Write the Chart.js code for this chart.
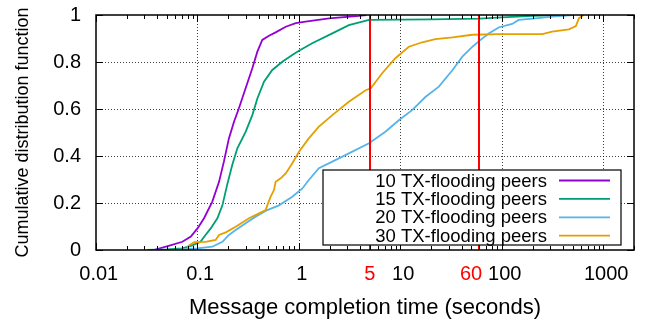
<!DOCTYPE html>
<html>
<head>
<meta charset="utf-8">
<script src="https://cdn.jsdelivr.net/npm/chart.js@4/dist/chart.umd.min.js"></script>
<style>
  html, body { margin: 0; padding: 0; background: #fff; }
</style>
</head>
<body>
<canvas id="graph" width="645" height="324"></canvas>
<script>
// CDF curves: completion time (s) -> cumulative fraction
const t10 = [0.037, 0.054, 0.071, 0.086, 0.1, 0.116, 0.14, 0.163, 0.182, 0.204, 0.229, 0.256, 0.298, 0.347, 0.389, 0.435, 0.506, 0.589, 0.74, 0.93, 1.16, 1.98, 3.9, 4.6];
const c10 = [0, 0.02, 0.035, 0.057, 0.092, 0.135, 0.206, 0.29, 0.376, 0.475, 0.546, 0.603, 0.688, 0.773, 0.844, 0.894, 0.912, 0.926, 0.95, 0.965, 0.972, 0.986, 0.996, 1];

const t15 = [0.032, 0.05, 0.071, 0.089, 0.107, 0.12, 0.135, 0.157, 0.176, 0.196, 0.22, 0.247, 0.298, 0.347, 0.389, 0.452, 0.546, 0.685, 0.859, 1.0, 1.35, 2.13, 3.1, 4.9, 20, 60, 100, 200, 400];
const c15 = [0, 0.003, 0.007, 0.02, 0.035, 0.064, 0.092, 0.135, 0.19, 0.277, 0.362, 0.433, 0.503, 0.574, 0.645, 0.716, 0.766, 0.801, 0.83, 0.848, 0.88, 0.922, 0.957, 0.979, 0.981, 0.985, 0.99, 0.996, 1];

const t20 = [0.06, 0.1, 0.14, 0.176, 0.204, 0.238, 0.298, 0.374, 0.487, 0.635, 0.859, 1.08, 1.25, 1.57, 2.13, 3.1, 4.9, 7.1, 9.7, 13.1, 17.7, 23.9, 32.6, 40.7, 51.2, 61.5, 74.7, 93.7, 126, 146, 214, 312, 425, 500];
const c20 = [0, 0.007, 0.014, 0.035, 0.064, 0.085, 0.114, 0.142, 0.17, 0.19, 0.227, 0.262, 0.298, 0.348, 0.376, 0.411, 0.454, 0.503, 0.553, 0.596, 0.652, 0.695, 0.766, 0.823, 0.865, 0.894, 0.922, 0.948, 0.962, 0.979, 0.986, 0.993, 0.997, 1];

const t30 = [0.08, 0.08, 0.083, 0.093, 0.12, 0.151, 0.163, 0.19, 0.238, 0.322, 0.404, 0.47, 0.487, 0.526, 0.567, 0.589, 0.66, 0.74, 0.86, 1.0, 1.25, 1.57, 2.13, 3.1, 4.54, 5.1, 6.6, 8.9, 12.1, 16.4, 22, 32.6, 51, 93.5, 250, 312, 457, 535, 573, 620, 640];
const c30 = [0, 0.012, 0.02, 0.033, 0.035, 0.043, 0.064, 0.075, 0.099, 0.135, 0.156, 0.17, 0.19, 0.227, 0.255, 0.29, 0.305, 0.326, 0.369, 0.418, 0.475, 0.525, 0.574, 0.631, 0.68, 0.688, 0.752, 0.816, 0.865, 0.884, 0.897, 0.905, 0.916, 0.919, 0.919, 0.929, 0.939, 0.953, 0.986, 0.997, 1];

const seriesNames = ['10 TX-flooding peers', '15 TX-flooding peers', '20 TX-flooding peers', '30 TX-flooding peers'];
const seriesColors = ['#9400d3', '#009e73', '#56b4e9', '#e69f00'];
const xTickValues = [0.01, 0.1, 1, 5, 10, 60, 100, 1000];
const xGridValues = [0.1, 1, 10, 100, 1000];
const markerTimes = [5, 60];
const yTickValues = [0, 0.2, 0.4, 0.6, 0.8, 1];

const FONT = "'Liberation Sans', Arial, Helvetica, sans-serif";
const RED = '#ff0000';

const toPoints = (xs, ys) => xs.map((x, i) => ({x: x, y: ys[i]}));
const allT = [t10, t15, t20, t30];
const allC = [c10, c15, c20, c30];

const datasets = seriesNames.map((name, i) => ({
    label: name,
    data: toPoints(allT[i], allC[i]),
    borderColor: seriesColors[i],
    backgroundColor: seriesColors[i],
    borderWidth: 1.8,
    pointRadius: 0,
    showLine: true,
    tension: 0,
    order: 4 - i
}));

// the labels in the original sit a little off their tics; pad with spaces to nudge them
function xLabel(v) {
    if (v === 5) return '5';
    if (v === 60) return '60   ';
    return ' ' + v;
}

// gnuplot-ish grid, frame, inward tics, marker lines and boxed key
const gnuplotFrame = {
    id: 'gnuplotFrame',
    beforeDatasetsDraw(chart) {
        const {ctx, chartArea: a, scales: {x, y}} = chart;
        ctx.save();
        ctx.strokeStyle = 'rgba(0,0,0,0.75)';
        ctx.lineWidth = 1;
        ctx.setLineDash([1, 2]);
        xGridValues.forEach(v => {
            const px = Math.round(x.getPixelForValue(v)) + 0.5;
            ctx.beginPath();
            ctx.moveTo(px, a.top); ctx.lineTo(px, a.bottom);
            ctx.stroke();
        });
        yTickValues.slice(1, -1).forEach(v => {
            const py = Math.round(y.getPixelForValue(v)) + 0.5;
            ctx.beginPath();
            ctx.moveTo(a.left, py); ctx.lineTo(a.right, py);
            ctx.stroke();
        });
        ctx.restore();
    },
    afterDatasetsDraw(chart) {
        const {ctx, chartArea: a, scales: {x, y}} = chart;
        ctx.save();
        ctx.strokeStyle = RED;
        ctx.lineWidth = 2;
        markerTimes.forEach(v => {
            const px = Math.round(x.getPixelForValue(v));
            ctx.beginPath();
            ctx.moveTo(px, a.top); ctx.lineTo(px, a.bottom);
            ctx.stroke();
        });

        ctx.strokeStyle = '#000';
        ctx.lineWidth = 1;
        // x tics, bottom and top
        for (let d = 0.01; d <= 1000.5; d *= 10) {
            for (let k = 1; k <= 9; k++) {
                const v = d * k;
                if (v > 2000) break;
                const px = Math.round(x.getPixelForValue(v)) + 0.5;
                const len = k === 1 ? 7 : 4;
                ctx.beginPath();
                ctx.moveTo(px, a.bottom); ctx.lineTo(px, a.bottom - len);
                ctx.moveTo(px, a.top); ctx.lineTo(px, a.top + len);
                ctx.stroke();
            }
        }
        // y tics, left and right
        yTickValues.forEach(v => {
            const py = Math.round(y.getPixelForValue(v)) + 0.5;
            ctx.beginPath();
            ctx.moveTo(a.left, py); ctx.lineTo(a.left + 7, py);
            ctx.moveTo(a.right, py); ctx.lineTo(a.right - 7, py);
            ctx.stroke();
        });
        ctx.lineWidth = 1.5;
        ctx.strokeRect(a.left, a.top, a.right - a.left, a.bottom - a.top);

        // key
        const kl = a.left + 227, kr = a.right - 13, kt = a.top + 155, kb = a.bottom - 5;
        ctx.fillStyle = '#fff';
        ctx.fillRect(kl, kt, kr - kl, kb - kt);
        ctx.lineWidth = 1.2;
        ctx.strokeRect(kl, kt, kr - kl, kb - kt);
        ctx.font = '18.5px ' + FONT;
        ctx.textAlign = 'right';
        ctx.textBaseline = 'middle';
        seriesNames.forEach((name, i) => {
            const ry = kt + 10.5 + i * 18.4;
            ctx.fillStyle = '#000';
            ctx.fillText(name, kr - 74, ry + 1);
            ctx.strokeStyle = seriesColors[i];
            ctx.lineWidth = 1.8;
            ctx.beginPath();
            ctx.moveTo(kr - 62, ry); ctx.lineTo(kr - 11, ry);
            ctx.stroke();
        });
        ctx.restore();
    }
};

const config = {
    type: 'scatter',
    data: {datasets: datasets},
    options: {
        responsive: false,
        animation: false,
        devicePixelRatio: 1,
        layout: {padding: {left: 0, right: 11, top: 15, bottom: 0}},
        plugins: {legend: {display: false}, tooltip: {enabled: false}},
        scales: {
            x: {
                type: 'logarithmic',
                min: 0.01,
                max: 2000,
                afterBuildTicks: (s) => { s.ticks = xTickValues.map(v => ({value: v})); },
                afterFit: (s) => { s.height = 74; s.paddingLeft = 0; s.paddingRight = 0; },
                ticks: {
                    autoSkip: false,
                    maxRotation: 0,
                    padding: 12,
                    font: {size: 20, family: FONT},
                    color: (ctx) => markerTimes.includes(ctx.tick.value) ? RED : '#000',
                    callback: (v) => xLabel(v)
                },
                grid: {display: false, drawTicks: false},
                border: {display: false},
                title: {
                    display: true,
                    text: 'Message completion time (seconds)',
                    font: {size: 22, family: FONT},
                    color: '#000',
                    padding: {top: 0, bottom: 3}
                }
            },
            y: {
                min: 0,
                max: 1,
                afterBuildTicks: (s) => { s.ticks = yTickValues.map(v => ({value: v})); },
                afterFit: (s) => { s.width = 96; s.paddingTop = 0; s.paddingBottom = 0; },
                ticks: {
                    padding: 15,
                    font: {size: 20, family: FONT},
                    color: '#000',
                    callback: (v) => String(+v.toFixed(1))
                },
                grid: {display: false, drawTicks: false},
                border: {display: false},
                title: {
                    display: true,
                    text: 'Cumulative distribution function',
                    font: {size: 18, family: FONT},
                    color: '#000',
                    padding: {top: 12, bottom: 0}
                }
            }
        }
    },
    plugins: [gnuplotFrame]
};

const graph = document.querySelector('#graph');
new Chart(graph, config);
</script>
</body>
</html>
